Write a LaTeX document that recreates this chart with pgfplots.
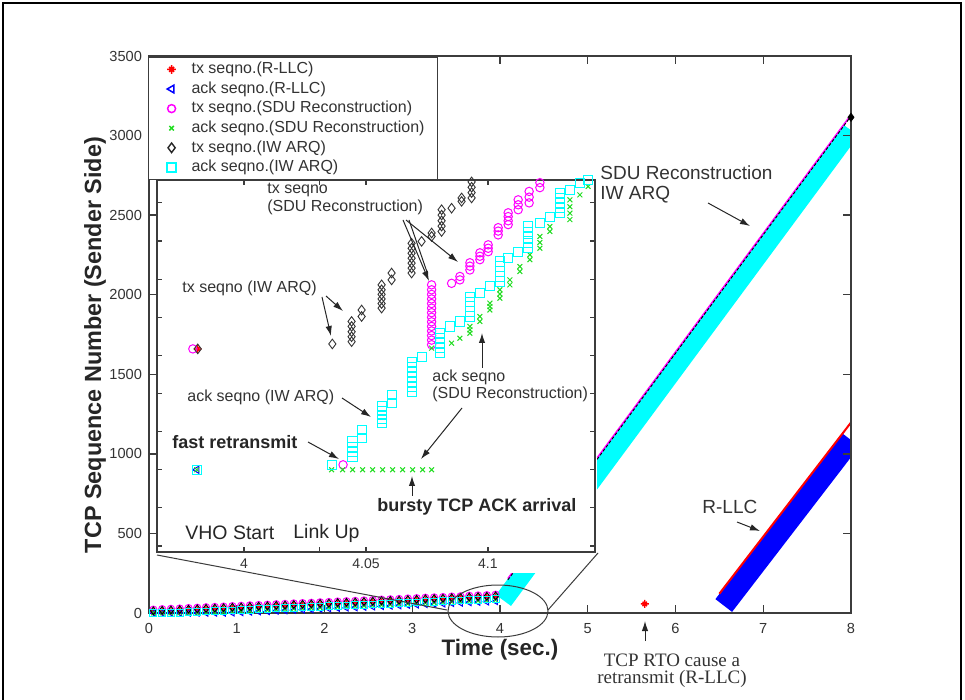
\documentclass[border=0pt]{standalone}
\usepackage{pgfplots}
\pgfplotsset{compat=1.18}
\usepackage{pgfplotstable}
\usepackage{fontspec}
\setmainfont{Liberation Sans}
\newfontfamily\timesfont{Liberation Serif}
\usetikzlibrary{arrows.meta}

\definecolor{axgray}{HTML}{3C3C3C}
\definecolor{txtgray}{HTML}{333333}
\definecolor{mgreen}{HTML}{22DD22}
\definecolor{mcyan}{HTML}{00FFFF}
\definecolor{mmag}{HTML}{FF00FF}

\pgfdeclareplotmark{mstar}{%
  \pgfpathmoveto{\pgfqpoint{-\pgfplotmarksize}{0pt}}\pgfpathlineto{\pgfqpoint{\pgfplotmarksize}{0pt}}%
  \pgfpathmoveto{\pgfqpoint{0pt}{-\pgfplotmarksize}}\pgfpathlineto{\pgfqpoint{0pt}{\pgfplotmarksize}}%
  \pgfpathmoveto{\pgfqpoint{-.55\pgfplotmarksize}{-.55\pgfplotmarksize}}\pgfpathlineto{\pgfqpoint{.55\pgfplotmarksize}{.55\pgfplotmarksize}}%
  \pgfpathmoveto{\pgfqpoint{-.55\pgfplotmarksize}{.55\pgfplotmarksize}}\pgfpathlineto{\pgfqpoint{.55\pgfplotmarksize}{-.55\pgfplotmarksize}}%
  \pgfusepathqstroke}

% legend image with an explicit marker style
\pgfplotsset{limg/.style={legend image code/.code={%
    \pgfpathmoveto{\pgfqpoint{0pt}{0pt}}\pgfpathlineto{\pgfqpoint{18.5pt}{0pt}}\pgfusepath{discard}%
    \draw[#1] plot coordinates {(9.5pt,0pt)};}}}

% before the vertical handover (main axis, time in s, TCP sequence number)
\pgfplotstableread{
t red blue mag green black cyan
0.05 7 0 21 0 14 0
0.15 10 0 24 0 17 0
0.25 12 0 26 0 19 0
0.35 14 0 28 0 21 1
0.45 17 0 31 0 24 4
0.55 19 0 33 0 26 6
0.65 22 0 36 2 29 9
0.75 24 0 38 4 31 11
0.85 26 0 40 6 33 13
0.95 29 1 43 9 36 16
1.05 31 3 45 11 38 18
1.15 34 6 48 14 41 21
1.25 36 8 50 16 43 23
1.35 38 10 52 18 45 25
1.45 41 13 55 21 48 28
1.55 43 15 57 23 50 30
1.65 46 18 60 26 53 33
1.75 48 20 62 28 55 35
1.85 50 22 64 30 57 37
1.95 53 25 67 33 60 40
2.05 55 27 69 35 62 42
2.15 58 30 72 38 65 45
2.25 60 32 74 40 67 47
2.35 62 34 76 42 69 49
2.45 65 37 79 45 72 52
2.55 67 39 81 47 74 54
2.65 70 42 84 50 77 57
2.75 72 44 86 52 79 59
2.85 74 46 88 54 81 61
2.95 77 49 91 57 84 64
3.05 79 51 93 59 86 66
3.15 82 54 96 62 89 69
3.25 84 56 98 64 91 71
3.35 86 58 100 66 93 73
3.45 89 61 103 69 96 76
3.55 91 63 105 71 98 78
3.65 94 66 108 74 101 81
3.75 96 68 110 76 103 83
3.85 98 70 112 78 105 85
3.95 101 73 115 81 108 88
}\pretable

% inset data (time in s, inset units)
\pgfplotstableread{
t y
3.9810 5.17
}\inred
\pgfplotstableread{
t y
3.9806 2.00
}\inblue
\pgfplotstableread{
t y
3.9790 5.17
4.0406 2.13
4.0769 5.28
4.0769 5.40
4.0769 5.52
4.0769 5.64
4.0769 5.76
4.0769 5.88
4.0769 6.00
4.0769 6.12
4.0769 6.24
4.0769 6.36
4.0769 6.48
4.0769 6.60
4.0769 6.72
4.0769 6.85
4.0851 6.89
4.0885 6.98
4.0885 7.07
4.0926 7.24
4.0926 7.34
4.0926 7.43
4.0967 7.51
4.0967 7.60
4.0967 7.69
4.1001 7.72
4.1001 7.81
4.1001 7.90
4.1042 8.16
4.1042 8.26
4.1042 8.35
4.1083 8.43
4.1083 8.53
4.1083 8.64
4.1083 8.74
4.1124 8.82
4.1124 8.95
4.1124 9.08
4.1169 9.00
4.1169 9.15
4.1169 9.30
4.1213 9.40
4.1213 9.53
4.1254 9.65
}\inmag
\pgfplotstableread{
t y
3.9806 2.00
4.0359 2.00
4.0404 2.00
4.0445 2.00
4.0486 2.00
4.0527 2.00
4.0568 2.00
4.0609 2.00
4.0650 2.00
4.0691 2.00
4.0732 2.00
4.0769 2.00
4.0769 5.19
4.0851 5.32
4.0885 5.45
4.0926 5.58
4.0926 5.67
4.0926 5.76
4.0967 5.89
4.0967 6.02
4.1008 6.19
4.1008 6.28
4.1008 6.37
4.1049 6.50
4.1049 6.61
4.1049 6.72
4.1090 6.85
4.1090 6.98
4.1131 7.20
4.1131 7.33
4.1172 7.51
4.1172 7.64
4.1213 7.81
4.1213 7.96
4.1213 8.12
4.1254 8.25
4.1254 8.38
4.1336 8.56
4.1336 8.73
4.1336 8.90
4.1336 9.08
4.1377 9.21
4.1411 9.43
}\ingreen
\pgfplotstableread{
t y
3.9810 5.17
4.0362 5.30
4.0441 5.36
4.0441 5.49
4.0441 5.62
4.0441 5.76
4.0441 5.89
4.0482 6.02
4.0482 6.19
4.0564 6.24
4.0564 6.36
4.0564 6.48
4.0564 6.60
4.0564 6.72
4.0564 6.85
4.0605 6.98
4.0605 7.16
4.0687 7.16
4.0687 7.29
4.0687 7.42
4.0687 7.55
4.0687 7.68
4.0687 7.81
4.0687 7.94
4.0728 7.99
4.0769 8.12
4.0769 8.21
4.0810 8.25
4.0810 8.39
4.0810 8.53
4.0810 8.68
4.0810 8.82
4.0851 8.86
4.0892 9.04
4.0892 9.13
4.0933 9.13
4.0933 9.27
4.0933 9.41
4.0933 9.55
}\inblack
\pgfplotstableread{
t y
3.9806 1.99
4.0359 2.13
4.0445 2.33
4.0445 2.47
4.0445 2.60
4.0445 2.74
4.0482 2.83
4.0482 3.04
4.0564 3.22
4.0564 3.33
4.0564 3.44
4.0564 3.55
4.0564 3.66
4.0605 3.75
4.0605 3.96
4.0690 4.05
4.0690 4.18
4.0690 4.31
4.0690 4.44
4.0690 4.57
4.0690 4.70
4.0690 4.83
4.0731 4.95
4.0803 5.06
4.0803 5.19
4.0803 5.32
4.0803 5.45
4.0803 5.58
4.0844 5.76
4.0885 5.89
4.0926 6.02
4.0926 6.15
4.0926 6.28
4.0926 6.41
4.0926 6.54
4.0967 6.63
4.1008 6.81
4.1049 6.94
4.1049 7.07
4.1049 7.20
4.1049 7.33
4.1049 7.46
4.1083 7.55
4.1124 7.72
4.1165 7.81
4.1165 7.95
4.1165 8.09
4.1165 8.23
4.1165 8.38
4.1213 8.47
4.1254 8.64
4.1295 8.73
4.1295 8.86
4.1295 9.00
4.1295 9.13
4.1295 9.26
4.1336 9.34
4.1377 9.52
4.1411 9.60
}\incyan

\begin{document}
\begin{tikzpicture}
\path[use as bounding box] (0,0) rectangle (482.5pt,-350pt);

% ---------------- main axis ----------------
\begin{axis}[
  at={(74.5pt,-306.5pt)}, anchor=south west,
  scale only axis, width=351pt, height=278.5pt,
  xmin=0, xmax=8, ymin=0, ymax=3500,
  xtick={0,1,...,8}, ytick={0,500,...,3500},
  tick align=inside, major tick length=4pt,
  axis on top,
  axis line style={axgray, line width=0.7pt},
  every tick/.style={axgray, line width=0.7pt},
  tick label style={font=\fontsize{7.3}{8}\selectfont, text=txtgray},
  xticklabel style={yshift=-1.5pt},
  /pgf/number format/assume math mode=true,
  /pgf/number format/1000 sep={},
  legend cell align=left,
  legend style={at={(0,1)}, anchor=north west, xshift=-0.5pt, yshift=-0.5pt,
    draw=axgray, line width=0.6pt, fill=white,
    font=\fontsize{8}{9}\selectfont\color{txtgray},
    inner xsep=2pt, inner ysep=1pt, row sep=0pt, column sep=0pt,
    nodes={inner sep=1pt, text height=6pt, text depth=1.8pt}},
]
\addplot[only marks, mark=mstar, red, mark size=1.8pt, line width=0.6pt,
  limg={only marks, mark=mstar, draw=red, mark size=2.2pt, line width=0.8pt}] table[x=t, y=red] {\pretable};
\addlegendentry{tx seqno.(R-LLC)}
\addplot[only marks, mark=triangle, mark options={rotate=90}, blue, mark size=1.8pt, line width=0.5pt,
  limg={only marks, mark=triangle, mark options={rotate=90}, draw=blue, mark size=2.2pt, line width=0.75pt}] table[x=t, y=blue] {\pretable};
\addlegendentry{ack seqno.(R-LLC)}
\addplot[only marks, mark=o, mmag, mark size=1.8pt, line width=0.5pt,
  limg={only marks, mark=o, draw=mmag, mark size=2pt, line width=0.75pt}] table[x=t, y=mag] {\pretable};
\addlegendentry{tx seqno.(SDU Reconstruction)}
\addplot[only marks, mark=x, mgreen, mark size=1.6pt, line width=0.5pt,
  limg={only marks, mark=x, draw=mgreen, mark size=1.6pt, line width=0.75pt}] table[x=t, y=green] {\pretable};
\addlegendentry{ack seqno.(SDU Reconstruction)\rule{3.5pt}{0pt}}
\addplot[only marks, mark=diamond, black, mark size=1.9pt, line width=0.5pt,
  limg={only marks, mark=diamond, draw=black!85, mark size=2.4pt, line width=0.7pt}] table[x=t, y=black] {\pretable};
\addlegendentry{tx seqno.(IW ARQ)}
\addplot[only marks, mark=square, mcyan, mark size=1.7pt, line width=0.5pt,
  limg={only marks, mark=square, draw=mcyan, mark size=2.2pt, line width=0.85pt}] table[x=t, y=cyan] {\pretable};
\addlegendentry{ack seqno.(IW ARQ)}

% after the handover: dense marker bands
\addplot[forget plot, mgreen, line width=7pt, line cap=butt] coordinates {(4.08,100) (8,3030)};
\addplot[forget plot, mcyan, line width=9.3pt, line cap=butt] coordinates {(4.04,79) (8,3033)};
\addplot[forget plot, mmag, line width=0.8pt] coordinates {(4.09,216) (8,3130)};
\addplot[forget plot, black, line width=0.45pt, dash pattern=on 1.5pt off 1pt] coordinates {(4.09,208) (8,3122)};
\addplot[forget plot, only marks, mark=diamond*, black, mark size=2pt] coordinates {(8,3115)};
% R-LLC
\addplot[forget plot, blue, line width=10.5pt, line cap=butt] coordinates {(6.55,47) (8,1087)};
\addplot[forget plot, red, line width=1.0pt] coordinates {(6.5,121) (8,1197)};
\addplot[forget plot, only marks, mark=mstar, red, mark size=2pt, line width=0.7pt] coordinates {(5.65,57)};
\end{axis}

% white area under the inset
\begin{scope}[x=0.5pt,y=-0.5pt]
\fill[white] (157,180.5) rectangle (597,573);
\end{scope}

% ---------------- inset axis ----------------
\begin{axis}[
  at={(78.5pt,-276pt)}, anchor=south west,
  scale only axis, width=219pt, height=186pt,
  xmin=3.9643, xmax=4.1439, ymin=-0.157, ymax=9.6,
  xtick={4,4.05,4.1}, xticklabels={4,4.05,4.1},
  extra x ticks={4.031}, extra x tick labels={},
  ytick={0,1,...,9}, yticklabels={},
  tick align=inside, major tick length=2.5pt,
  axis line style={axgray, line width=0.6pt},
  every tick/.style={axgray, line width=0.6pt},
  tick label style={font=\fontsize{7}{8}\selectfont, text=txtgray},
  /pgf/number format/assume math mode=true,
  axis background/.style={fill=white},
]
\addplot[only marks, mark=mstar, red, mark size=2pt, line width=0.6pt] table[x=t, y=y] {\inred};
\addplot[only marks, mark=triangle, mark options={rotate=90}, blue, mark size=2pt, line width=0.5pt] table[x=t, y=y] {\inblue};
\addplot[only marks, mark=o, mmag, mark size=2.1pt, line width=0.5pt] table[x=t, y=y] {\inmag};
\addplot[only marks, mark=x, mgreen, mark size=1.7pt, line width=0.5pt] table[x=t, y=y] {\ingreen};
\addplot[only marks, mark=diamond, black!80, mark size=2.4pt, line width=0.45pt] table[x=t, y=y] {\inblack};
\addplot[only marks, mark=square, mcyan, mark size=2.3pt, line width=0.5pt] table[x=t, y=y] {\incyan};
\end{axis}

% ---------------- annotations (pixel coordinates) ----------------
\begin{scope}[x=0.5pt,y=-0.5pt]
\draw[black, line width=1.2pt] (3,710) -- (3,3) -- (961,3) -- (961,710);

% zoom ellipse and lines
\draw[axgray, line width=0.5pt] (498,611) ellipse [x radius=50, y radius=26];
\draw[axgray, line width=0.5pt] (157,555) -- (447,610);
\draw[axgray, line width=0.5pt] (598,553) -- (548,610);

% axis labels
\node[font=\bfseries\fontsize{11.2}{12}\selectfont, text=black!85] at (500,650) {Time (sec.)};
\node[rotate=90, font=\bfseries\fontsize{11.7}{12}\selectfont, text=black!85] at (95,345) {TCP Sequence Number (Sender Side)};

\tikzset{ann/.style={draw=black!85, line width=0.5pt, -{Latex[length=5pt,width=3.2pt]}}}

% main annotations
\node[anchor=west, inner sep=0pt, font=\fontsize{9.5}{10}\selectfont, text=txtgray] at (600,173) {SDU Reconstruction};
\node[anchor=west, inner sep=0pt, font=\fontsize{9.5}{10}\selectfont, text=txtgray] at (600,195) {IW ARQ};
\draw[ann] (708,203) -- (750,226);
\node[anchor=west, inner sep=0pt, font=\fontsize{9.5}{10}\selectfont, text=txtgray] at (702,507) {R-LLC};
\draw[ann] (737,522) -- (760,531);
\draw[ann] (645,641) -- (645,621);
\node[font=\timesfont\fontsize{9.5}{10}\selectfont, text=txtgray] at (672,660) {TCP RTO cause a};
\node[font=\timesfont\fontsize{9.5}{10}\selectfont, text=txtgray] at (672,679) {retransmit (R-LLC)};

% inset annotations
\node[anchor=west, inner sep=0pt, font=\fontsize{8}{9}\selectfont, text=txtgray] at (267,190) {tx seqno};
\node[anchor=west, inner sep=0pt, font=\fontsize{8}{9}\selectfont, text=txtgray] at (267,207) {(SDU Reconstruction)};
\draw[ann] (403,220) -- (429,281);
\draw[draw=black!85, line width=0.5pt] (409,220) -- (427,272);
\draw[ann] (406,220) -- (458,262);

\node[anchor=west, inner sep=0pt, font=\fontsize{8}{9}\selectfont, text=txtgray] at (182,288) {tx seqno (IW ARQ)};
\draw[ann] (322,297) -- (331,336);
\draw[ann] (326,296) -- (343,311);

\node[anchor=west, inner sep=0pt, font=\fontsize{8}{9}\selectfont, text=txtgray] at (187,397) {ack seqno (IW ARQ)};
\draw[ann] (342,398) -- (371,417);

\node[anchor=west, inner sep=0pt, font=\fontsize{8}{9}\selectfont, text=txtgray] at (432,377) {ack seqno};
\node[anchor=west, inner sep=0pt, font=\fontsize{8}{9}\selectfont, text=txtgray] at (432,394) {(SDU Reconstruction)};
\draw[ann] (462,408) -- (421,459);
\draw[ann] (482,368) -- (482,333);

\node[anchor=west, inner sep=0pt, font=\bfseries\fontsize{9}{10}\selectfont, text=black!85] at (172,442) {fast retransmit};
\draw[ann] (308,442) -- (339,459);

\node[anchor=west, inner sep=0pt, font=\bfseries\fontsize{9}{10}\selectfont, text=black!85] at (377,507) {bursty TCP ACK arrival};
\draw[ann] (412,496) -- (412,476);

\node[anchor=west, inner sep=0pt, font=\fontsize{9.75}{10}\selectfont, text=black!85] at (185,533) {VHO Start};
\node[anchor=west, inner sep=0pt, font=\fontsize{9.75}{10}\selectfont, text=black!85] at (293,533) {Link Up};
\end{scope}
\end{tikzpicture}
\end{document}
